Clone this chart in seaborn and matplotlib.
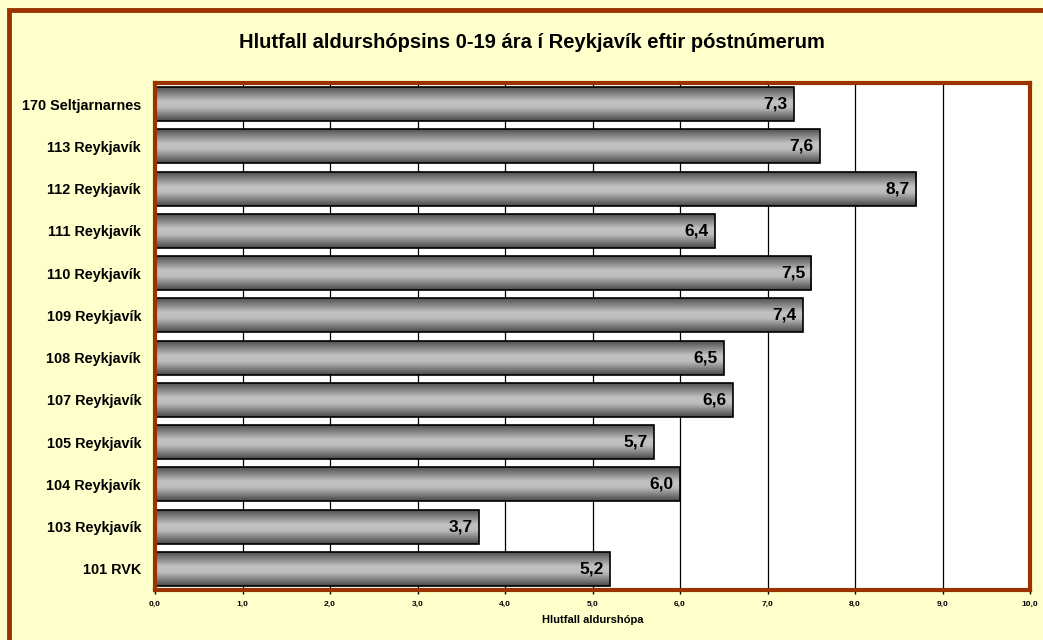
import numpy as np
import pandas as pd
import seaborn as sns
import matplotlib.pyplot as plt
from matplotlib.patches import Rectangle
from matplotlib.colors import LinearSegmentedColormap

# data (top to bottom)
areas = ['170 Seltjarnarnes', '113 Reykjavík', '112 Reykjavík', '111 Reykjavík',
         '110 Reykjavík', '109 Reykjavík', '108 Reykjavík', '107 Reykjavík',
         '105 Reykjavík', '104 Reykjavík', '103 Reykjavík', '101 RVK']
shares = [7.3, 7.6, 8.7, 6.4, 7.5, 7.4, 6.5, 6.6, 5.7, 6.0, 3.7, 5.2]
xticks = [0, 1, 2, 3, 4, 5, 6, 7, 8, 9, 10]

df = pd.DataFrame({'area': areas, 'share': shares})

sns.set_style('white')
plt.rcParams['font.family'] = ['Liberation Sans', 'DejaVu Sans']
plt.rcParams['text.color'] = 'black'
plt.rcParams['axes.labelcolor'] = 'black'
plt.rcParams['xtick.color'] = 'black'
plt.rcParams['ytick.color'] = 'black'

brown = '#993300'
fig = plt.figure(figsize=(10.43, 6.4), dpi=100, facecolor='#FFFFCC')

# outer chart border (runs off the right/bottom edge like the original)
fig.patches.append(Rectangle((8.5 / 1043, -0.05), 1.2, 1 - 10 / 640 + 0.05,
                             transform=fig.transFigure, fill=False,
                             edgecolor=brown, lw=3.5, zorder=0))

ax = fig.add_axes([155 / 1043, 50 / 640, 875 / 1043, 507 / 640])
ax.set_facecolor('white')

sns.barplot(data=df, x='share', y='area', orient='h', color='#b0b0b0',
            edgecolor='black', linewidth=1.2, width=0.8, ax=ax, zorder=3)

# grey cylinder-like gradient across each bar
prof = LinearSegmentedColormap.from_list(
    'cyl', [(0, '#4e4e4e'), (0.42, '#c2c2c2'), (0.6, '#bdbdbd'), (1, '#474747')])
grad = np.linspace(0, 1, 256).reshape(-1, 1)
for p in ax.patches:
    x0, y0 = p.get_x(), p.get_y()
    w, h = p.get_width(), p.get_height()
    im = ax.imshow(grad, cmap=prof, aspect='auto', extent=[x0, x0 + w, y0 + h, y0],
                   zorder=3.5, interpolation='bicubic')
    im.set_clip_path(p)
    p.set_zorder(4)
    p.set_facecolor('none')

for i, v in enumerate(shares):
    ax.text(v - 0.07, i, f'{v:.1f}'.replace('.', ','), ha='right', va='center',
            fontsize=12.5, fontweight='bold', color='black', zorder=5)

ax.set_xlim(0, 10)
ax.set_ylim(len(areas) - 0.5, -0.5)
ax.set_xticks(xticks)
ax.set_xticklabels([f'{t:.1f}'.replace('.', ',') for t in xticks],
                   fontsize=6, fontweight='bold')
ax.grid(axis='x', color='black', lw=0.9, zorder=1)
ax.set_axisbelow(True)
ax.tick_params(axis='x', length=3, width=1, color='black', pad=5, bottom=True)
ax.tick_params(axis='y', length=0, pad=10)
for lab in ax.get_yticklabels():
    lab.set_fontsize(10.4)
    lab.set_fontweight('bold')

for s in ax.spines.values():
    s.set_color(brown)
    s.set_linewidth(3)
    s.set_zorder(6)

ax.set_ylabel('')
ax.set_xlabel('Hlutfall aldurshópa', fontsize=8, fontweight='bold', labelpad=5)

fig.text(532 / 1043, 1 - 42 / 640, 'Hlutfall aldurshópsins 0-19 ára í Reykjavík eftir póstnúmerum',
         ha='center', va='center', fontsize=14.5, fontweight='bold')

fig.savefig('out.png', dpi=100, facecolor=fig.get_facecolor())
